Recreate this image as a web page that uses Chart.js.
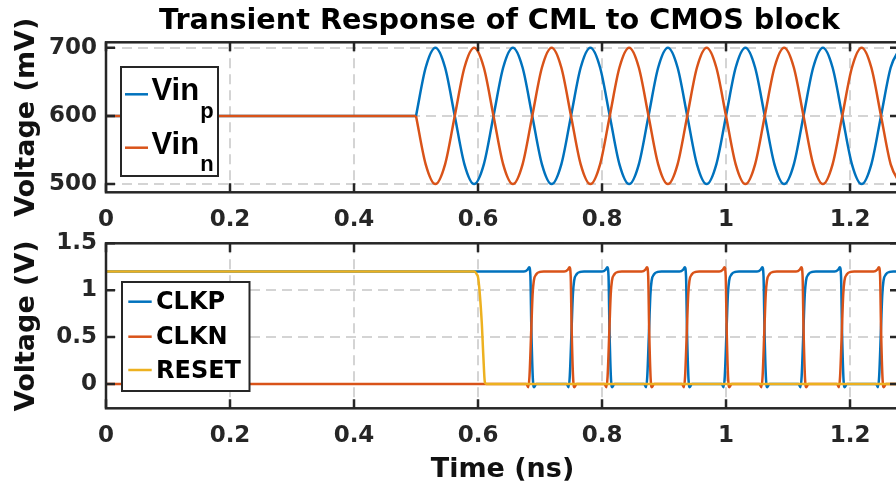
<!DOCTYPE html>
<html lang="en">
<head>
<meta charset="UTF-8">
<title>Transient Response of CML to CMOS block</title>
<script src="https://cdn.jsdelivr.net/npm/chart.js"></script>
<style>
    html, body { margin: 0; padding: 0; background: #fff; overflow: hidden; }
    body { width: 896px; height: 491px; position: relative; }
    canvas { position: absolute; left: 0; }
    #top { top: 0; }
    #bot { top: 222px; }
</style>
</head>
<body>
<canvas id="top" width="905" height="236"></canvas>
<canvas id="bot" width="905" height="269"></canvas>
<script>
// ---- data (ns / mV / V) ----
const tFlat = [0, 0.5];
const vFlat = [600, 600];
const tIn = [
    0.5, 0.515625, 0.53125, 0.546875, 0.5625, 0.578125, 0.59375, 0.609375,
    0.625, 0.640625, 0.65625, 0.671875, 0.6875, 0.703125, 0.71875, 0.734375,
    0.75, 0.765625, 0.78125, 0.796875, 0.8125, 0.828125, 0.84375, 0.859375,
    0.875, 0.890625, 0.90625, 0.921875, 0.9375, 0.953125, 0.96875, 0.984375,
    1.0, 1.015625, 1.03125, 1.046875, 1.0625, 1.078125, 1.09375, 1.109375,
    1.125, 1.140625, 1.15625, 1.171875, 1.1875, 1.203125, 1.21875, 1.234375,
    1.25, 1.265625, 1.28125];
const vinP = [
    600, 671, 700, 671, 600, 529, 500, 529,
    600, 671, 700, 671, 600, 529, 500, 529,
    600, 671, 700, 671, 600, 529, 500, 529,
    600, 671, 700, 671, 600, 529, 500, 529,
    600, 671, 700, 671, 600, 529, 500, 529,
    600, 671, 700, 671, 600, 529, 500, 529,
    600, 671, 700];
const vinN = [
    600, 529, 500, 529, 600, 671, 700, 671,
    600, 529, 500, 529, 600, 671, 700, 671,
    600, 529, 500, 529, 600, 671, 700, 671,
    600, 529, 500, 529, 600, 671, 700, 671,
    600, 529, 500, 529, 600, 671, 700, 671,
    600, 529, 500, 529, 600, 671, 700, 671,
    600, 529, 500];

const tClkP = [0,
    0.674, 0.680, 0.6825, 0.6845, 0.686, 0.6885, 0.6905, 0.694,
    0.743, 0.746, 0.748, 0.751, 0.753, 0.755, 0.759, 0.765, 0.771,
    0.800, 0.806, 0.8085, 0.8105, 0.812, 0.8145, 0.8165, 0.820,
    0.868, 0.871, 0.873, 0.876, 0.878, 0.880, 0.884, 0.890, 0.896,
    0.925, 0.931, 0.9335, 0.9355, 0.937, 0.9395, 0.9415, 0.945,
    0.993, 0.996, 0.998, 1.001, 1.003, 1.005, 1.009, 1.015, 1.021,
    1.050, 1.056, 1.0585, 1.0605, 1.062, 1.0645, 1.0665, 1.070,
    1.117, 1.120, 1.122, 1.125, 1.127, 1.129, 1.133, 1.139, 1.145,
    1.175, 1.181, 1.1835, 1.1855, 1.187, 1.1895, 1.1915, 1.195,
    1.242, 1.245, 1.247, 1.250, 1.252, 1.254, 1.258, 1.264, 1.270,
    1.300];
const clkP = [1.2,
    1.2, 1.22, 1.245, 1.15, 0.6, 0.05, -0.035, 0,
    0, -0.035, 0.08, 0.6, 0.95, 1.1, 1.17, 1.195, 1.2,
    1.2, 1.22, 1.245, 1.15, 0.6, 0.05, -0.035, 0,
    0, -0.035, 0.08, 0.6, 0.95, 1.1, 1.17, 1.195, 1.2,
    1.2, 1.22, 1.245, 1.15, 0.6, 0.05, -0.035, 0,
    0, -0.035, 0.08, 0.6, 0.95, 1.1, 1.17, 1.195, 1.2,
    1.2, 1.22, 1.245, 1.15, 0.6, 0.05, -0.035, 0,
    0, -0.035, 0.08, 0.6, 0.95, 1.1, 1.17, 1.195, 1.2,
    1.2, 1.22, 1.245, 1.15, 0.6, 0.05, -0.035, 0,
    0, -0.035, 0.08, 0.6, 0.95, 1.1, 1.17, 1.195, 1.2,
    1.2];

const tClkN = [0,
    0.678, 0.681, 0.683, 0.686, 0.688, 0.690, 0.694, 0.700, 0.706,
    0.739, 0.745, 0.7475, 0.7495, 0.751, 0.7535, 0.7555, 0.759,
    0.804, 0.807, 0.809, 0.812, 0.814, 0.816, 0.820, 0.826, 0.832,
    0.864, 0.870, 0.8725, 0.8745, 0.876, 0.8785, 0.8805, 0.884,
    0.929, 0.932, 0.934, 0.937, 0.939, 0.941, 0.945, 0.951, 0.957,
    0.989, 0.995, 0.9975, 0.9995, 1.001, 1.0035, 1.0055, 1.009,
    1.054, 1.057, 1.059, 1.062, 1.064, 1.066, 1.070, 1.076, 1.082,
    1.113, 1.119, 1.1215, 1.1235, 1.125, 1.1275, 1.1295, 1.133,
    1.179, 1.182, 1.184, 1.187, 1.189, 1.191, 1.195, 1.201, 1.207,
    1.238, 1.244, 1.2465, 1.2485, 1.250, 1.2525, 1.2545, 1.258,
    1.300];
const clkN = [0,
    0, -0.035, 0.08, 0.6, 0.95, 1.1, 1.17, 1.195, 1.2,
    1.2, 1.22, 1.245, 1.15, 0.6, 0.05, -0.035, 0,
    0, -0.035, 0.08, 0.6, 0.95, 1.1, 1.17, 1.195, 1.2,
    1.2, 1.22, 1.245, 1.15, 0.6, 0.05, -0.035, 0,
    0, -0.035, 0.08, 0.6, 0.95, 1.1, 1.17, 1.195, 1.2,
    1.2, 1.22, 1.245, 1.15, 0.6, 0.05, -0.035, 0,
    0, -0.035, 0.08, 0.6, 0.95, 1.1, 1.17, 1.195, 1.2,
    1.2, 1.22, 1.245, 1.15, 0.6, 0.05, -0.035, 0,
    0, -0.035, 0.08, 0.6, 0.95, 1.1, 1.17, 1.195, 1.2,
    1.2, 1.22, 1.245, 1.15, 0.6, 0.05, -0.035, 0,
    0];

const tReset = [0, 0.594, 0.598, 0.6005, 0.606, 0.6085, 0.611, 0.613, 1.300];
const reset  = [1.2, 1.2, 1.17, 1.12, 0.66, 0.31, 0.02, 0, 0];

const xTicks = [0, 0.2, 0.4, 0.6, 0.8, 1, 1.2];
const yTicksTop = [500, 600, 700];
const yTicksBot = [0, 0.5, 1, 1.5];

// ---- style ----
const FONT = '"DejaVu Sans", sans-serif';
const AXIS = '#262626';
const GRID = '#d4d4d4';
const BLUE = '#0072BD', ORANGE = '#D95319', YELLOW = '#EDB120';
const X_MAX = 1.279;

const pts = (t, v) => t.map((x, i) => ({ x: x, y: v[i] }));

// MATLAB-like box with inward ticks on all four sides
const boxPlugin = {
    id: 'matlabBox',
    afterDatasetsDraw(chart) {
        const { ctx, chartArea: a, scales } = chart;
        const x = scales.x, y = scales.y;
        ctx.save();
        ctx.strokeStyle = AXIS;
        ctx.lineWidth = 2.5;
        ctx.beginPath();
        x.ticks.forEach(t => {
            const px = x.getPixelForValue(t.value);
            ctx.moveTo(px, a.bottom); ctx.lineTo(px, a.bottom - 9);
            ctx.moveTo(px, a.top); ctx.lineTo(px, a.top + 9);
        });
        y.ticks.forEach(t => {
            const py = y.getPixelForValue(t.value);
            ctx.moveTo(a.left, py); ctx.lineTo(a.left + 9, py);
            ctx.moveTo(a.right, py); ctx.lineTo(a.right - 9, py);
        });
        ctx.stroke();
        ctx.strokeRect(a.left, a.top, a.width, a.height);
        ctx.restore();
    }
};

// title + legend box drawn on top
const legendPlugin = {
    id: 'matlabLegend',
    afterDraw(chart, args, opts) {
        const ctx = chart.ctx;
        const a = chart.chartArea;
        ctx.save();
        if (opts.title) {
            ctx.fillStyle = '#000';
            ctx.font = 'bold 28.7px ' + FONT;
            ctx.textAlign = 'center';
            ctx.textBaseline = 'alphabetic';
            ctx.fillText(opts.title, (a.left + a.right) / 2 - 3, 28.5);
        }
        const b = opts.box;
        ctx.fillStyle = '#fff';
        ctx.fillRect(b[0], b[1], b[2], b[3]);
        ctx.strokeStyle = AXIS;
        ctx.lineWidth = 2;
        ctx.strokeRect(b[0], b[1], b[2], b[3]);
        opts.items.forEach(it => {
            const ds = chart.data.datasets[it.ds];
            ctx.strokeStyle = ds.borderColor;
            ctx.lineWidth = 2.5;
            ctx.beginPath();
            ctx.moveTo(opts.lineX[0], it.y);
            ctx.lineTo(opts.lineX[1], it.y);
            ctx.stroke();
            ctx.fillStyle = '#000';
            ctx.textAlign = 'left';
            ctx.textBaseline = 'alphabetic';
            ctx.font = opts.font;
            ctx.fillText(it.text, opts.textX, it.y + opts.base);
            if (it.sub) {
                const w = ctx.measureText(it.text).width;
                ctx.font = opts.subFont;
                ctx.fillText(it.sub, opts.textX + w + 1, it.y + opts.subBase);
            }
        });
        ctx.restore();
    }
};

function axisOptions(cfg) {
    const tickFont = { family: FONT, size: 23, weight: 'bold' };
    return {
        x: {
            type: 'linear', min: 0, max: X_MAX,
            afterFit: s => { s.height = cfg.xHeight; s.paddingLeft = 0; s.paddingRight = 0; },
            afterBuildTicks: s => { s.ticks = xTicks.map(v => ({ value: v })); },
            ticks: { padding: 14, color: AXIS, font: tickFont, maxRotation: 0, autoSkip: false,
                     callback: v => String(v) },
            grid: { color: GRID, lineWidth: 2, drawTicks: false },
            border: { display: false, dash: [10, 6] },
            title: cfg.xTitle ? {
                display: true, text: cfg.xTitle, color: '#111',
                font: { family: FONT, size: 27, weight: 'bold' },
                padding: { top: 0, bottom: 5 }
            } : { display: false }
        },
        y: {
            min: cfg.yMin, max: cfg.yMax,
            afterFit: s => { s.width = 106; s.paddingTop = 0; s.paddingBottom = 0; },
            afterBuildTicks: s => { s.ticks = cfg.yTicks.map(v => ({ value: v })); },
            ticks: { padding: 9, color: AXIS, font: tickFont, callback: v => String(v) },
            grid: { color: GRID, lineWidth: 2, drawTicks: false },
            border: { display: false, dash: [10, 6] },
            title: {
                display: true, text: cfg.yTitle, color: '#111',
                font: { family: FONT, size: 27, weight: 'bold' },
                padding: { top: 11, bottom: 0 }
            }
        }
    };
}

function baseOptions(padTop) {
    return {
        responsive: false,
        animation: false,
        devicePixelRatio: 1,
        layout: { padding: { top: padTop, right: 6, left: 0, bottom: 0 } },
        elements: {
            point: { radius: 0 },
            line: { borderWidth: 2.5, cubicInterpolationMode: 'monotone' }
        }
    };
}

// ---- top: input sine waves ----
const topOpts = baseOptions(42.3);
topOpts.scales = axisOptions({ xHeight: 43.7, yMin: 488, yMax: 708, yTicks: yTicksTop, yTitle: 'Voltage (mV)' });
topOpts.plugins = {
    legend: { display: false },
    tooltip: { enabled: false },
    matlabLegend: {
        title: 'Transient Response of CML to CMOS block',
        box: [121, 67, 97, 109],
        lineX: [125, 148],
        textX: 151.5,
        font: 'bold 31px "Liberation Sans", sans-serif',
        subFont: 'bold 22px "Liberation Sans", sans-serif',
        base: 6, subBase: 23.5,
        items: [
            { ds: 0, y: 94.3, text: 'Vin', sub: 'p' },
            { ds: 1, y: 147.7, text: 'Vin', sub: 'n' }
        ]
    }
};
new Chart(document.getElementById('top'), {
    type: 'line',
    data: {
        datasets: [
            { label: 'Vin_p', data: pts(tIn, vinP), borderColor: BLUE, order: 0 },
            { label: 'Vin_n', data: pts(tIn, vinN), borderColor: ORANGE, order: -1 },
            { label: 'Vin_p (before 0.5 ns)', data: pts(tFlat, vFlat), borderColor: BLUE, order: 1 },
            { label: 'Vin_n (before 0.5 ns)', data: pts(tFlat, vFlat), borderColor: ORANGE, order: -2 }
        ]
    },
    options: topOpts,
    plugins: [boxPlugin, legendPlugin]
});

// ---- bottom: CMOS outputs ----
const botOpts = baseOptions(21.3);
botOpts.scales = axisOptions({ xHeight: 82.7, yMin: -0.26, yMax: 1.5, yTicks: yTicksBot, yTitle: 'Voltage (V)', xTitle: 'Time (ns)' });
botOpts.plugins = {
    legend: { display: false },
    tooltip: { enabled: false },
    matlabLegend: {
        box: [122, 60, 127.5, 109],
        lineX: [128.3, 151.7],
        textX: 156,
        font: 'bold 24px ' + FONT,
        base: 7.6,
        items: [
            { ds: 0, y: 79.7, text: 'CLKP' },
            { ds: 1, y: 114.7, text: 'CLKN' },
            { ds: 2, y: 148, text: 'RESET' }
        ]
    }
};
new Chart(document.getElementById('bot'), {
    type: 'line',
    data: {
        datasets: [
            { label: 'CLKP', data: pts(tClkP, clkP), borderColor: BLUE, order: 0 },
            { label: 'CLKN', data: pts(tClkN, clkN), borderColor: ORANGE, order: -1 },
            { label: 'RESET', data: pts(tReset, reset), borderColor: YELLOW, order: -2 }
        ]
    },
    options: botOpts,
    plugins: [boxPlugin, legendPlugin]
});
</script>
</body>
</html>
